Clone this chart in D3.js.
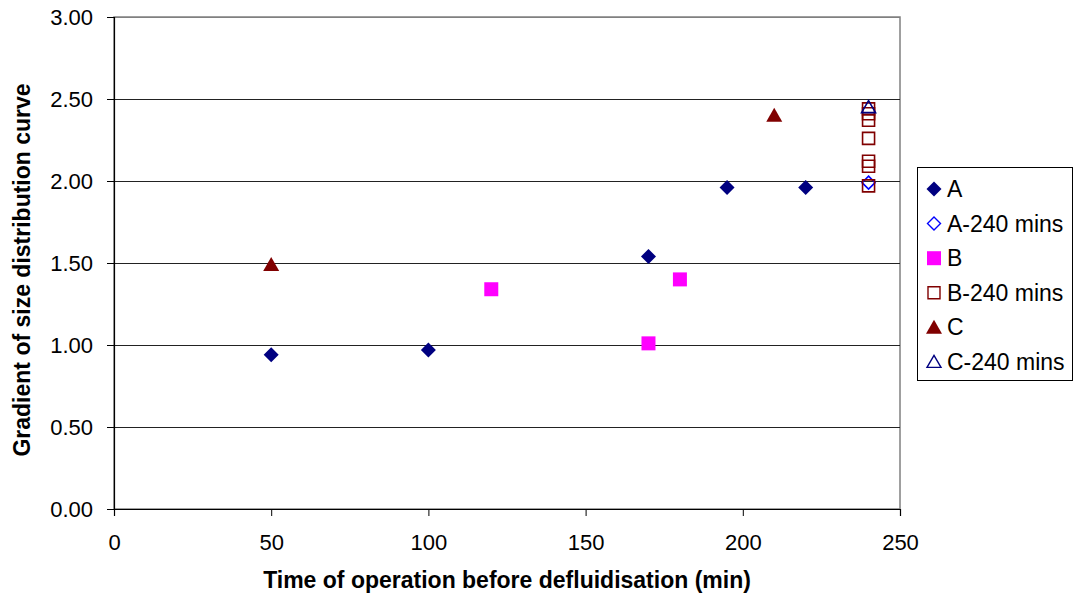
<!DOCTYPE html>
<html>
<head>
<meta charset="utf-8">
<script src="https://cdn.jsdelivr.net/npm/d3@7"></script>
<style>
  html, body { margin: 0; padding: 0; background: #fff; }
  svg { display: block; font-family: "Liberation Sans", Arial, sans-serif; }
</style>
</head>
<body>
<svg id="chart" width="1075" height="601"></svg>
<script>
// Measurement series: time of operation (min) vs gradient of size distribution curve
const seriesNames = ["A", "A-240 mins", "B", "B-240 mins", "C", "C-240 mins"];

const aTime = [50, 100, 170, 195, 220];
const aGrad = [0.94, 0.97, 1.54, 1.96, 1.96];

const a240Time = [240];
const a240Grad = [1.99];

const bTime = [120, 170, 180];
const bGrad = [1.34, 1.01, 1.40];

const b240Time = [240, 240, 240, 240, 240, 240, 240];
const b240Grad = [2.44, 2.41, 2.37, 2.26, 2.12, 2.09, 1.97];

const cTime = [50, 210];
const cGrad = [1.49, 2.40];

const c240Time = [240];
const c240Grad = [2.45];

const xTicks = [0, 50, 100, 150, 200, 250];
const yTicks = [0, 0.5, 1.0, 1.5, 2.0, 2.5, 3.0];

const styles = {
  "A":          { shape: "diamond",  fill: "#000080", stroke: "none" },
  "A-240 mins": { shape: "diamond",  fill: "none",    stroke: "#0000ff" },
  "B":          { shape: "square",   fill: "#ff00ff", stroke: "none" },
  "B-240 mins": { shape: "square",   fill: "none",    stroke: "#800000" },
  "C":          { shape: "triangle", fill: "#800000", stroke: "none" },
  "C-240 mins": { shape: "triangle", fill: "none",    stroke: "#000080" }
};

const seriesData = {
  "A": d3.zip(aTime, aGrad),
  "A-240 mins": d3.zip(a240Time, a240Grad),
  "B": d3.zip(bTime, bGrad),
  "B-240 mins": d3.zip(b240Time, b240Grad),
  "C": d3.zip(cTime, cGrad),
  "C-240 mins": d3.zip(c240Time, c240Grad)
};

const svg = d3.select("#chart");
const plot = { left: 114, right: 900, top: 17, bottom: 509 };

const x = d3.scaleLinear().domain([0, 250]).range([plot.left, plot.right]);
const y = d3.scaleLinear().domain([0, 3]).range([plot.bottom, plot.top]);

// Marker path generators
function markerPath(shape, filled) {
  if (shape === "diamond") {
    const r = filled ? 7.5 : 6.5;
    return `M0,${-r}L${r},0L0,${r}L${-r},0Z`;
  }
  if (shape === "square") {
    const h = filled ? 7 : 6;
    return `M${-h},${-h}H${h}V${h}H${-h}Z`;
  }
  // triangle
  const w = filled ? 8 : 7, ht = filled ? 14 : 12;
  return `M0,${-ht * 0.55}L${w},${ht * 0.45}L${-w},${ht * 0.45}Z`;
}

// Plot area border
svg.append("rect")
  .attr("x", plot.left).attr("y", plot.top)
  .attr("width", plot.right - plot.left).attr("height", plot.bottom - plot.top)
  .attr("fill", "none").attr("stroke", "#808080").attr("stroke-width", 1.5);

// Horizontal gridlines
svg.append("g")
  .selectAll("line")
  .data(yTicks.filter(t => t > 0))
  .join("line")
  .attr("x1", plot.left).attr("x2", plot.right)
  .attr("y1", d => Math.round(y(d)) + 0.5).attr("y2", d => Math.round(y(d)) + 0.5)
  .attr("stroke", d => d === 3 ? "#808080" : "#222")
  .attr("stroke-width", 1);

// Axes
const yAxis = d3.axisLeft(y).tickValues(yTicks).tickFormat(d3.format(".2f")).tickSizeOuter(0).tickSize(7).tickPadding(14);
const xAxis = d3.axisBottom(x).tickValues(xTicks).tickFormat(d3.format("d")).tickSizeOuter(0).tickSize(7).tickPadding(18);

const gy = svg.append("g").attr("transform", `translate(${plot.left},0)`).call(yAxis);
const gx = svg.append("g").attr("transform", `translate(0,${plot.bottom})`).call(xAxis);

[gx, gy].forEach(g => {
  g.select(".domain").attr("stroke", "#000").attr("stroke-width", 1.2);
  g.selectAll(".tick line").attr("stroke", "#000");
  g.selectAll(".tick text").attr("fill", "#000")
    .style("font-family", "'Liberation Sans', Arial, sans-serif")
    .style("font-size", "22px");
});

// Axis titles
svg.append("text")
  .attr("x", 507).attr("y", 588)
  .attr("text-anchor", "middle")
  .style("font-weight", "bold").style("font-size", "23px")
  .text("Time of operation before defluidisation (min)");

svg.append("text")
  .attr("transform", `translate(30,270) rotate(-90)`)
  .attr("text-anchor", "middle")
  .style("font-weight", "bold").style("font-size", "23px")
  .text("Gradient of size distribution curve");

// Data markers
const marks = svg.append("g");
seriesNames.forEach(name => {
  const st = styles[name];
  const filled = st.fill !== "none";
  marks.append("g")
    .selectAll("path")
    .data(seriesData[name])
    .join("path")
    .attr("transform", d => `translate(${x(d[0])},${y(d[1])})`)
    .attr("d", markerPath(st.shape, filled))
    .attr("fill", st.fill)
    .attr("stroke", st.stroke)
    .attr("stroke-width", filled ? 0 : 1.6);
});

// Legend
const legend = svg.append("g");
legend.append("rect")
  .attr("x", 917.5).attr("y", 167.5).attr("width", 155).attr("height", 213)
  .attr("fill", "#fff").attr("stroke", "#000").attr("stroke-width", 1);

seriesNames.forEach((name, i) => {
  const st = styles[name];
  const filled = st.fill !== "none";
  const cy = 189 + i * 34.6;
  legend.append("path")
    .attr("transform", `translate(934,${cy})`)
    .attr("d", markerPath(st.shape, filled))
    .attr("fill", st.fill)
    .attr("stroke", st.stroke)
    .attr("stroke-width", filled ? 0 : 1.4);
  legend.append("text")
    .attr("x", 947).attr("y", cy + 8)
    .style("font-size", "23px")
    .text(name);
});
</script>
</body>
</html>
